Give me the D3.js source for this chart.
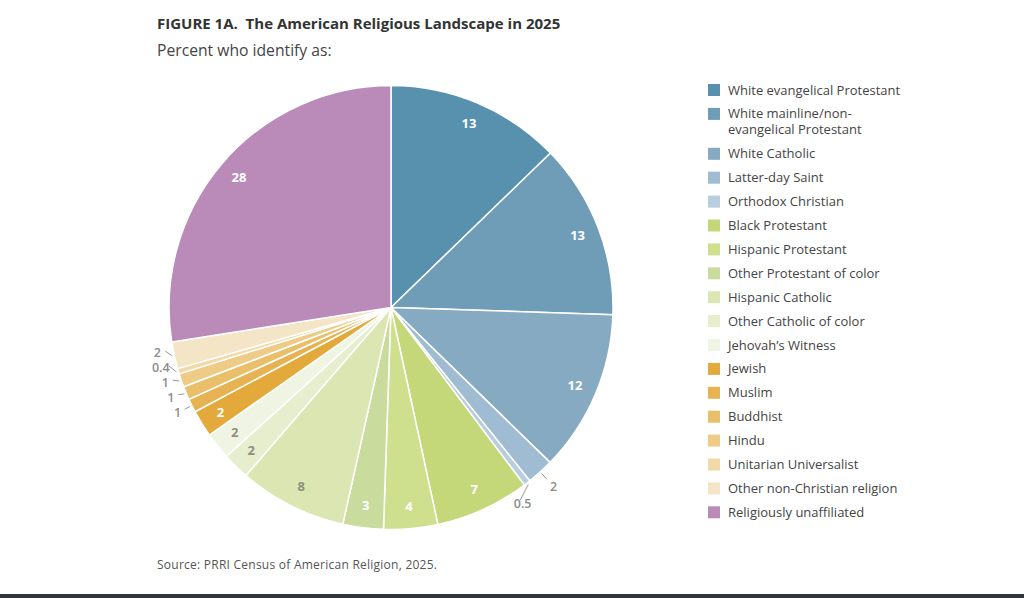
<!DOCTYPE html>
<html>
<head>
<meta charset="utf-8">
<script src="https://cdn.jsdelivr.net/npm/d3@7"></script>
<style>
  body { margin: 0; background: #fff; }
  svg { display: block; font-family: "Open Sans", sans-serif; }
</style>
</head>
<body>
<svg width="1024" height="598"></svg>
<script>
const categories = [
  'White evangelical Protestant',
  'White mainline/non-evangelical Protestant',
  'White Catholic',
  'Latter-day Saint',
  'Orthodox Christian',
  'Black Protestant',
  'Hispanic Protestant',
  'Other Protestant of color',
  'Hispanic Catholic',
  'Other Catholic of color',
  'Jehovah\u2019s Witness',
  'Jewish',
  'Muslim',
  'Buddhist',
  'Hindu',
  'Unitarian Universalist',
  'Other non-Christian religion',
  'Religiously unaffiliated'
];
const values = [13, 13, 12, 2, 0.5, 7, 4, 3, 8, 2, 2, 2, 1, 1, 1, 0.4, 2, 28];
const colors = [
  '#5791ae', '#6f9db7', '#86aac1', '#9fbcd2', '#b8cddd',
  '#c4d879', '#cedf8d', '#cadb9e', '#dbe6b3', '#e6eecd', '#f0f5e3',
  '#e4a93b', '#e7b352', '#eabf69', '#eecb87', '#f2d9a6', '#f4e5c6',
  '#ba8ab8'
];
// how each slice's value is written: inside (white / grey) or outside with a connector
const labelKind = [
  'white', 'white', 'white', 'out', 'out',
  'white', 'white', 'white', 'grey', 'grey', 'grey',
  'white', 'out', 'out', 'out', 'out', 'out',
  'white'
];

const svg = d3.select('svg');

svg.append('text')
  .attr('x', 157).attr('y', 29)
  .attr('font-size', 15).attr('font-weight', 700).attr('fill', '#333')
  .attr('xml:space', 'preserve')
  .text('FIGURE 1A.  The American Religious Landscape in 2025');

svg.append('text')
  .attr('x', 157).attr('y', 56)
  .attr('font-size', 15.7).attr('fill', '#444')
  .text('Percent who identify as:');

svg.append('text')
  .attr('x', 157).attr('y', 569)
  .attr('font-size', 12).attr('fill', '#555')
  .attr('textLength', 280)
  .text('Source: PRRI Census of American Religion, 2025.');

svg.append('rect')
  .attr('x', 0).attr('y', 594).attr('width', 1024).attr('height', 4)
  .attr('fill', '#30363c');

// pie
const cx = 391, cy = 307.5, R = 222;
const data = categories.map((c, i) => ({ name: c, value: values[i], color: colors[i], kind: labelKind[i] }));

const pie = d3.pie().sort(null).value((d) => d.value);
const arcs = pie(data);
const arc = d3.arc().innerRadius(0).outerRadius(R);

const g = svg.append('g').attr('transform', `translate(${cx},${cy})`);

g.selectAll('path')
  .data(arcs)
  .enter()
  .append('path')
  .attr('d', arc)
  .attr('fill', (d) => d.data.color)
  .attr('stroke', '#fff')
  .attr('stroke-width', 1.5)
  .attr('stroke-linejoin', 'round');

const mid = (d) => (d.startAngle + d.endAngle) / 2;

// inner labels
const inner = arcs.filter((d) => d.data.kind !== 'out');
g.selectAll('text.inner')
  .data(inner)
  .enter()
  .append('text')
  .attr('class', 'inner')
  .attr('x', (d) => 200 * Math.sin(mid(d)))
  .attr('y', (d) => -200 * Math.cos(mid(d)))
  .attr('dy', '0.35em')
  .attr('text-anchor', 'middle')
  .attr('font-size', 13)
  .attr('font-weight', 700)
  .attr('fill', (d) => (d.data.kind === 'white' ? '#fff' : '#8e907f'))
  .text((d) => d.data.value);

// outside labels, pushed apart a little where they crowd
const outer = arcs.filter((d) => d.data.kind === 'out').map((d) => {
  const a = mid(d);
  const right = Math.sin(a) > 0;
  const r = right ? 242 : 238;
  return { d, a, right, r, y: -r * Math.cos(a) };
});

const gap = 15;
const rightSide = outer.filter((o) => o.right).sort((p, q) => p.y - q.y);
for (let i = 1; i < rightSide.length; i++) {
  if (rightSide[i].y - rightSide[i - 1].y < gap + 2) rightSide[i].y = rightSide[i - 1].y + gap + 2;
}
const leftSide = outer.filter((o) => !o.right).sort((p, q) => q.y - p.y);
for (let i = 1; i < leftSide.length; i++) {
  if (leftSide[i - 1].y - leftSide[i].y < gap) leftSide[i].y = leftSide[i - 1].y - gap;
}
outer.forEach((o) => {
  const h = Math.sqrt(Math.max(o.r * o.r - o.y * o.y, 0));
  o.x = o.right ? h : -h;
  if (o.right && o.d.data.value < 1) o.x -= 10;
});

g.selectAll('line.conn')
  .data(outer)
  .enter()
  .append('line')
  .attr('class', 'conn')
  .attr('x1', (o) => (R + 2) * Math.sin(o.a))
  .attr('y1', (o) => -(R + 2) * Math.cos(o.a))
  .attr('x2', (o) => {
    const la = Math.atan2(o.x, -o.y);
    return (o.right ? R + 10 : R + 8) * Math.sin(la);
  })
  .attr('y2', (o) => {
    const la = Math.atan2(o.x, -o.y);
    return -(o.right ? R + 10 : R + 8) * Math.cos(la);
  })
  .attr('stroke', '#999')
  .attr('stroke-width', 1);

g.selectAll('text.outer')
  .data(outer)
  .enter()
  .append('text')
  .attr('class', 'outer')
  .attr('x', (o) => o.x)
  .attr('y', (o) => o.y)
  .attr('dy', '0.35em')
  .attr('text-anchor', 'middle')
  .attr('font-size', 12.5)
  .attr('font-weight', 600)
  .attr('fill', '#8c8c8c')
  .text((o) => o.d.data.value);

// legend
const legendLines = categories.map((c) => (c.startsWith('White mainline') ? ['White mainline/non-', 'evangelical Protestant'] : [c]));
let ly = 90;
const legend = svg.append('g');
legendLines.forEach((lines, i) => {
  const row = legend.append('g').attr('transform', `translate(708,${ly})`);
  row.append('rect')
    .attr('x', 0).attr('y', -6).attr('width', 12).attr('height', 12)
    .attr('fill', colors[i]);
  lines.forEach((t, j) => {
    row.append('text')
      .attr('x', 20).attr('y', j * 16)
      .attr('dy', '0.35em')
      .attr('font-size', 13).attr('fill', '#444')
      .text(t);
  });
  ly += 23.9 + (lines.length - 1) * 16;
});
</script>
</body>
</html>
